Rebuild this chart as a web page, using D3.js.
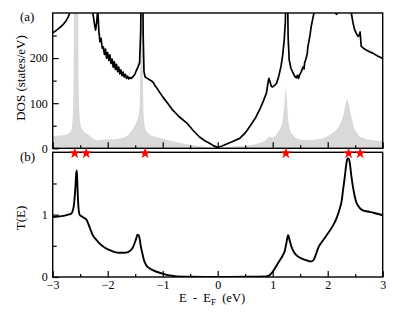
<!DOCTYPE html>
<html><head><meta charset="utf-8">
<script src="https://cdn.jsdelivr.net/npm/d3@7"></script>
<style>body{margin:0;background:#fff}svg{display:block}</style>
</head><body><svg id="c" width="399" height="318"></svg>
<script>
// Total DOS (black line): energy, value
const dosE = [-3.00,-2.95,-2.90,-2.85,-2.80,-2.76,-2.72,-2.69,-2.62,-2.50,-2.40,-2.32,-2.27,-2.24,-2.22,-2.20,-2.18,-2.16,-2.14,-2.12,-2.10,
 -2.08,-2.06,-2.04,-2.02,-2.00,-1.98,-1.96,-1.94,-1.92,-1.90,-1.88,-1.86,-1.84,-1.82,-1.80,-1.78,-1.76,-1.74,-1.72,-1.70,-1.68,-1.66,-1.64,-1.62,-1.60,-1.57,-1.54,-1.51,-1.48,-1.45,
 -1.42,-1.40,-1.39,-1.365,-1.355,-1.34,-1.32,-1.28,-1.24,-1.21,-1.18,-1.16,-1.15,-1.12,-1.08,-1.05,-1.00,-0.90,-0.82,-0.70,-0.56,-0.45,-0.33,-0.25,-0.15,-0.08,0.00,
 0.08,0.15,0.25,0.40,0.50,0.58,0.68,0.76,0.82,0.86,0.885,0.91,0.93,0.95,0.976,1.00,1.04,1.07,1.11,1.15,1.18,1.21,1.23,1.245,1.265,1.28,1.30,1.33,1.37,1.40,1.43,1.45,1.47,1.49,1.52,1.55,1.57,1.58,1.61,1.63,1.64,1.66,1.68,1.70,1.73,1.75,
 1.80,1.90,2.00,2.08,2.13,2.16,2.19,2.25,2.35,2.43,2.46,2.49,2.52,2.55,2.57,2.59,2.60,2.61,2.65,2.70,2.76,2.82,2.90,3.00];
const dosV = [256,260,265,270,276,282,291,300,340,370,360,330,300,275,262,280,310,258,236,244,222,
 225,208,220,200,212,195,207,188,198,180,192,175,186,170,180,165,174,161,169,158,164,155,160,154,157,155,159,163,172,180,
 190,260,400,400,250,170,158,155,152,150,147,144,141,136,129,123,114,98,85,70,56,40,25,18,11,6,2,
 5,9,14,22,34,48,66,85,102,114,122,142,155,148,137,136,140,144,160,181,205,241,280,400,400,248,196,178,167,160,156,162,155,163,170,180,176,189,200,212,226,238,252,270,288,300,
 330,350,340,315,302,297,302,330,340,300,278,263,255,248,250,258,240,226,222,218,214,211,205,199];
// Local DOS (grey filled)
const ldosE = [-3.00,-2.90,-2.80,-2.72,-2.68,-2.65,-2.63,-2.62,-2.61,-2.54,-2.53,-2.52,-2.50,-2.47,-2.42,-2.35,-2.30,-2.25,-2.20,-2.10,-2.00,-1.90,-1.80,-1.70,-1.62,-1.56,-1.51,-1.47,-1.44,-1.42,-1.41,-1.40,-1.37,-1.36,-1.35,-1.33,-1.30,-1.25,-1.20,-1.10,-1.00,-0.80,-0.60,-0.40,-0.20,0.00,
 0.20,0.40,0.60,0.75,0.85,0.92,0.95,0.99,1.05,1.10,1.13,1.17,1.19,1.22,1.24,1.26,1.28,1.31,1.34,1.40,1.43,1.50,1.61,1.75,1.91,2.00,2.10,2.16,2.22,2.28,2.32,2.35,2.38,2.43,2.49,2.58,2.70,2.83,3.00];
const ldosV = [28,28,29,32,36,45,80,150,400,400,150,90,55,42,35,30,25,20,18,19,20,20,21,24,30,40,50,60,72,90,150,400,400,150,80,50,38,32,28,24,21,15,10,6,3,2,
 3,5,7,11,16,24,26,23,28,36,41,55,70,110,141,105,63,42,33,25,22,19,18,19,22,27,35,41,52,70,95,111,100,70,41,26,20,18,15];
// Transmission T(E)
const tE = [-3.00,-2.90,-2.81,-2.72,-2.66,-2.62,-2.59,-2.57,-2.56,-2.55,-2.53,-2.51,-2.45,-2.38,-2.33,-2.27,-2.21,-2.15,-2.05,-1.96,-1.87,-1.78,-1.70,-1.63,-1.58,-1.54,-1.50,-1.48,-1.46,-1.44,-1.42,-1.40,-1.37,-1.34,-1.30,-1.24,-1.18,-1.10,-0.99,-0.87,-0.75,-0.50,0.00,
 0.50,0.885,0.945,1.00,1.06,1.13,1.18,1.22,1.25,1.28,1.31,1.34,1.38,1.43,1.52,1.61,1.68,1.72,1.76,1.80,1.84,1.90,1.98,2.08,2.16,2.22,2.25,2.28,2.31,2.34,2.36,2.38,2.40,2.43,2.46,2.49,2.52,2.58,2.64,2.73,2.83,2.92,3.00];
const tV = [0.96,0.97,0.98,1.00,1.02,1.12,1.40,1.68,1.71,1.45,1.10,1.00,0.96,0.91,0.80,0.67,0.60,0.54,0.47,0.43,0.40,0.39,0.39,0.40,0.43,0.48,0.57,0.62,0.68,0.67,0.62,0.50,0.38,0.27,0.19,0.14,0.11,0.08,0.05,0.025,0.01,0.003,0.002,
 0.004,0.01,0.03,0.085,0.17,0.27,0.34,0.42,0.55,0.67,0.58,0.49,0.41,0.35,0.30,0.27,0.25,0.255,0.30,0.40,0.49,0.57,0.67,0.80,0.94,1.10,1.20,1.40,1.60,1.82,1.90,1.90,1.84,1.62,1.44,1.30,1.20,1.11,1.07,1.05,1.03,1.01,0.99];
// Resonance markers (red stars)
const starE = [-2.60,-2.39,-1.32,1.24,2.38,2.59];
// Tick values / labels
const xTicks = [-3,-2,-1,0,1,2,3];
const xMinor = [-2.5,-1.5,-0.5,0.5,1.5,2.5];
const dosTicks = [0,100,200];
const dosMinor = [50,150,250];
const tTicks = [0,1];
const tMinor = [0.5,1.5];

const FONT = '"Liberation Serif","Times New Roman","DejaVu Serif",serif';
const svg = d3.select("#c");
const L = 52.7, R = 382.7;
const aTop = 13, aBot = 148.3, bTop = 152.3, bBot = 277;
const x = d3.scaleLinear().domain([-3,3]).range([L,R]);
const yA = d3.scaleLinear().domain([0,300]).range([aBot,aTop]);
const yB = d3.scaleLinear().domain([0,2]).range([bBot,bTop]);

const defs = svg.append("defs");
defs.append("clipPath").attr("id","ca").append("rect").attr("x",L).attr("y",aTop).attr("width",R-L).attr("height",aBot-aTop);
defs.append("clipPath").attr("id","cb").append("rect").attr("x",L).attr("y",bTop).attr("width",R-L).attr("height",bBot-bTop);

const ldos = ldosE.map((e,i)=>[e,ldosV[i]]);
const dos = dosE.map((e,i)=>[e,dosV[i]]);
const tr = tE.map((e,i)=>[e,tV[i]]);

const gA = svg.append("g").attr("clip-path","url(#ca)");
gA.append("path").datum(ldos).attr("fill","#d9d9d9")
  .attr("d", d3.area().x(d=>x(d[0])).y0(yA(0)).y1(d=>yA(d[1])));
gA.append("path").datum(dos).attr("fill","none").attr("stroke","#000").attr("stroke-width",1.7).attr("stroke-linejoin","round")
  .attr("d", d3.line().x(d=>x(d[0])).y(d=>yA(d[1])));

const gB = svg.append("g").attr("clip-path","url(#cb)");
gB.append("path").datum(tr).attr("fill","none").attr("stroke","#000").attr("stroke-width",1.9).attr("stroke-linejoin","round")
  .attr("d", d3.line().curve(d3.curveMonotoneX).x(d=>x(d[0])).y(d=>yB(d[1])));

// axes with inward ticks
function xAxis(yPos, showLabels){
  const g = svg.append("g").attr("transform",`translate(0,${yPos})`);
  g.call(d3.axisBottom(x).tickValues(xTicks).tickSize(-6).tickPadding(3).tickFormat(showLabels?d3.format("d"):""));
  g.select(".domain").remove();
  g.selectAll("line").attr("stroke","#000").attr("stroke-width",1.2);
  g.selectAll("text").attr("font-size",12).attr("fill","#000");
  const m = svg.append("g").attr("transform",`translate(0,${yPos})`);
  m.call(d3.axisBottom(x).tickValues(xMinor).tickSize(-3).tickFormat(""));
  m.select(".domain").remove();
  m.selectAll("line").attr("stroke","#000").attr("stroke-width",1.2);
}
function yAxis(scale, major, minor, fmt){
  const g = svg.append("g").attr("transform",`translate(${L},0)`);
  g.call(d3.axisLeft(scale).tickValues(major).tickSize(-6).tickPadding(4).tickFormat(fmt));
  g.select(".domain").remove();
  g.selectAll("line").attr("stroke","#000").attr("stroke-width",1.2);
  g.selectAll("text").attr("font-size",12).attr("fill","#000").attr("x",-5);
  const m = svg.append("g").attr("transform",`translate(${L},0)`);
  m.call(d3.axisLeft(scale).tickValues(minor).tickSize(-4).tickFormat(""));
  m.select(".domain").remove();
  m.selectAll("line").attr("stroke","#000").attr("stroke-width",1.2);
}
xAxis(aBot,false);
xAxis(bBot,true);
yAxis(yA, dosTicks, dosMinor, d3.format("d"));
yAxis(yB, tTicks, tMinor, d3.format("d"));

// frames
svg.append("rect").attr("x",L).attr("y",aTop).attr("width",R-L).attr("height",aBot-aTop).attr("fill","none").attr("stroke","#000").attr("stroke-width",1.4);
svg.append("rect").attr("x",L).attr("y",bTop).attr("width",R-L).attr("height",bBot-bTop).attr("fill","none").attr("stroke","#000").attr("stroke-width",1.4);

// stars
svg.append("g").selectAll("path").data(starE).join("path")
  .attr("transform",d=>`translate(${x(d)},${bTop+1})`)
  .attr("d", d3.symbol().type(d3.symbolStar).size(40))
  .attr("fill","#ff0000");

// labels
svg.append("text").attr("x",20).attr("y",21).attr("font-size",13).text("(a)");
svg.append("text").attr("x",20).attr("y",161).attr("font-size",13).text("(b)");
svg.append("text").attr("transform","translate(25,78) rotate(-90)").attr("text-anchor","middle").attr("font-size",13).text("DOS (states/eV)");
svg.append("text").attr("transform","translate(25,218) rotate(-90)").attr("text-anchor","middle").attr("font-size",13).text("T(E)");
const xl = svg.append("text").attr("x",179).attr("y",302).attr("font-size",12.5).attr("xml:space","preserve").style("white-space","pre");
xl.append("tspan").text("E  -  E");
xl.append("tspan").attr("font-size",9).attr("dy",3).text("F");
xl.append("tspan").attr("dy",-3).text("  (eV)");

svg.selectAll("text").style("font-family", FONT).attr("font-family", null);
svg.selectAll("g").attr("font-family", null);
</script></body></html>
